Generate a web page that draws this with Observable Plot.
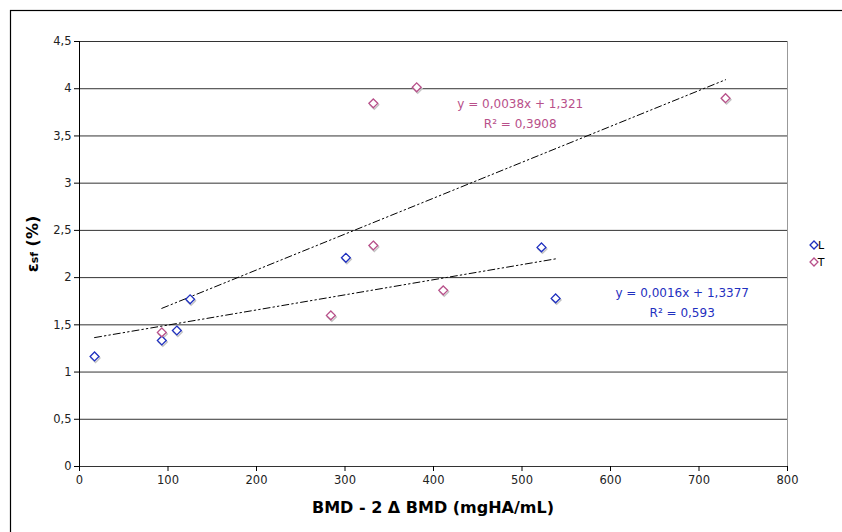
<!DOCTYPE html>
<html><head><meta charset="utf-8">
<script src="https://cdn.jsdelivr.net/npm/d3@7"></script>
<script src="https://cdn.jsdelivr.net/npm/@observablehq/plot@0.6"></script>
<style>body{margin:0;background:#fff} svg{display:block}</style>
</head><body><div id="chart"></div>
<script>
// Series L (blue)
const xL = [17, 93, 110, 125, 301, 522, 538];
const yL = [1.165, 1.335, 1.44, 1.77, 2.21, 2.32, 1.78];
// Series T (mauve)
const xT = [93, 284, 332, 332, 381, 411, 730];
const yT = [1.42, 1.60, 2.34, 3.845, 4.015, 1.865, 3.90];
// Trendline equations shown in the chart
const trendL = {slope: 0.0016, intercept: 1.3377, r2: "0,593"};
const trendT = {slope: 0.0038, intercept: 1.321, r2: "0,3908"};
const xTicks = [0, 100, 200, 300, 400, 500, 600, 700, 800];
const yTicks = [0, 0.5, 1, 1.5, 2, 2.5, 3, 3.5, 4, 4.5];
const seriesNames = ["L", "T"];

const colL = "#1f30c0", colT = "#b8508a";
const fmt = d => String(d).replace(".", ",");
const ptsL = xL.map((x, i) => ({x, y: yL[i]}));
const ptsT = xT.map((x, i) => ({x, y: yT[i]}));
const lineOf = (xs, t) => d3.extent(xs).map(x => ({x, y: t.slope * x + t.intercept}));
const eqText = t => `y = ${fmt(t.slope)}x + ${fmt(t.intercept)}\nR² = ${t.r2}`;

const dash = "7,3,1.5,3,1.5,3";
const plot = Plot.plot({
  width: 842, height: 532,
  marginLeft: 79, marginRight: 55, marginTop: 41, marginBottom: 66,
  style: {fontFamily: "DejaVu Sans, Verdana, sans-serif", fontSize: "11.5px", color: "#222", background: "#fff"},
  x: {domain: [0, 800]},
  y: {domain: [0, 4.5]},
  marks: [
    Plot.ruleY(yTicks, {stroke: "#333", strokeWidth: 1}),
    Plot.ruleX([800], {stroke: "#999"}),
    Plot.ruleX([0], {stroke: "#000"}),
    Plot.axisY(yTicks, {tickSize: 5, tickPadding: 3, tickFormat: fmt, label: null, stroke: "#000"}),
    Plot.axisX(xTicks, {tickSize: 5, tickPadding: 4, label: null, stroke: "#000"}),
    Plot.line(lineOf(xL, trendL), {x: "x", y: "y", stroke: "#000", strokeWidth: 1, strokeDasharray: dash}),
    Plot.line(lineOf(xT, trendT), {x: "x", y: "y", stroke: "#000", strokeWidth: 1, strokeDasharray: dash}),
    Plot.dot(ptsL, {x: "x", y: "y", symbol: "diamond2", r: 4, stroke: "#c4c4c4", strokeWidth: 1.4, dx: 1, dy: 1.5}),
    Plot.dot(ptsT, {x: "x", y: "y", symbol: "diamond2", r: 4, stroke: "#c4c4c4", strokeWidth: 1.4, dx: 1, dy: 1.5}),
    Plot.dot(ptsL, {x: "x", y: "y", symbol: "diamond2", r: 4, stroke: colL, fill: "#fff", strokeWidth: 1.3}),
    Plot.dot(ptsT, {x: "x", y: "y", symbol: "diamond2", r: 4, stroke: colT, fill: "#fff", strokeWidth: 1.3}),
    Plot.text([eqText(trendT)], {x: 498, y: 3.76, text: d => d, fill: colT, fontSize: 12, lineHeight: 1.67}),
    Plot.text([eqText(trendL)], {x: 681, y: 1.758, text: d => d, fill: colL, fontSize: 12, lineHeight: 1.67})
  ]
});
document.getElementById("chart").appendChild(plot);

const svg = d3.select(plot);
// outer chart border
svg.append("rect").attr("x", 10.5).attr("y", 10.5).attr("width", 900).attr("height", 600)
  .attr("fill", "none").attr("stroke", "#000").attr("stroke-width", 1.2);
// axis titles
svg.append("text").attr("x", 433).attr("y", 513).attr("text-anchor", "middle")
  .attr("font-weight", "bold").attr("font-size", 16).attr("fill", "#000")
  .text("BMD - 2 Δ BMD (mgHA/mL)");
const yl = svg.append("text").attr("transform", "translate(38,244) rotate(-90)")
  .attr("text-anchor", "middle").attr("font-weight", "bold").attr("font-size", 16).attr("fill", "#000");
yl.append("tspan").text("ε");
yl.append("tspan").attr("font-size", 11).text("sf");
yl.append("tspan").text(" (%)");
// legend
const lg = svg.append("g").attr("font-size", 11).attr("fill", "#000");
seriesNames.forEach((n, i) => {
  const y = 245 + i * 17;
  lg.append("path").attr("d", d3.symbol(d3.symbolDiamond2, 40)())
    .attr("transform", `translate(814,${y})`).attr("fill", "#fff")
    .attr("stroke", i ? colT : colL).attr("stroke-width", 1.3);
  lg.append("text").attr("x", 821).attr("y", y + 4).text(n);
});
</script></body></html>
